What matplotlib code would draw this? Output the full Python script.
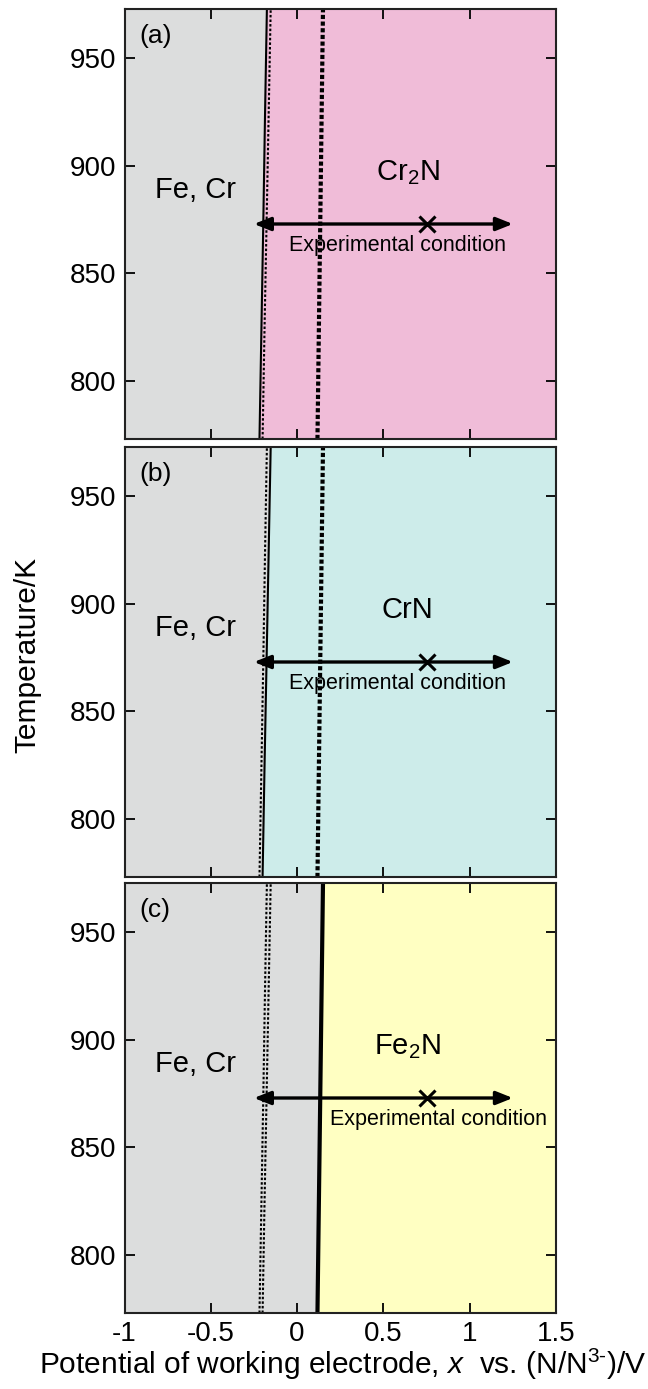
import matplotlib
matplotlib.use("Agg")
import matplotlib.pyplot as plt
import numpy as np

plt.rcParams['font.family'] = ['Liberation Sans', 'DejaVu Sans']
plt.rcParams['mathtext.fontset'] = 'custom'
plt.rcParams['mathtext.rm'] = 'Liberation Sans'
plt.rcParams['mathtext.it'] = 'Liberation Sans:italic'

# Phase boundaries (potential in V at each temperature in K)
temps = [773, 823, 873, 923, 973]
cr2n_edge = [-0.218, -0.207, -0.196, -0.186, -0.175]
crn_edge = [-0.200, -0.189, -0.177, -0.165, -0.153]
fe2n_edge = [0.118, 0.126, 0.134, 0.142, 0.150]

# Experimental condition: potential range and working point at 873 K
exp_range = [-0.25, 1.25]
exp_point = 0.75
exp_temp = 873

panel_tags = ["(a)", "(b)", "(c)"]
phase_names = ["Cr$_2$N", "CrN", "Fe$_2$N"]
phase_colors = ["#f0bcd8", "#cdecea", "#ffffc2"]
gray = "#dcdddd"

xlim = (-1, 1.5)
ylim = (773, 973)

fig = plt.figure(figsize=(6.48, 13.89), dpi=100)
W, H = 648, 1389
tops = [9, 447, 883]
ph = 430

edges = {"Cr$_2$N": cr2n_edge, "CrN": crn_edge, "Fe$_2$N": fe2n_edge}

for i in range(3):
    ax = fig.add_axes([124.5 / W, 1 - (tops[i] + ph) / H, (556 - 124.5) / W, ph / H])
    name = phase_names[i]
    edge = edges[name]
    ax.fill_betweenx(temps, xlim[0], edge, color=gray, lw=0)
    ax.fill_betweenx(temps, edge, xlim[1], color=phase_colors[i], lw=0)

    if i == 0:
        ax.plot(cr2n_edge, temps, color="black", lw=1.5)
        ax.plot(crn_edge, temps, color="black", lw=1.5, ls=(0, (1.2, 1)))
        ax.plot(fe2n_edge, temps, color="black", lw=3, ls=(0, (1, 0.6)))
    elif i == 1:
        ax.plot(crn_edge, temps, color="black", lw=1.5)
        ax.plot(cr2n_edge, temps, color="black", lw=1.5, ls=(0, (1.2, 1)))
        ax.plot(fe2n_edge, temps, color="black", lw=3, ls=(0, (1, 0.6)))
    else:
        ax.plot(cr2n_edge, temps, color="black", lw=1.5, ls=(0, (1.2, 1)))
        ax.plot(crn_edge, temps, color="black", lw=1.5, ls=(0, (1.2, 1)))
        ax.plot(fe2n_edge, temps, color="black", lw=3)

    ax.annotate("", xy=(exp_range[1], exp_temp), xytext=(exp_range[0], exp_temp),
                arrowprops=dict(arrowstyle="<|-|>,head_length=1.0,head_width=0.4",
                                color="black", lw=2.4, shrinkA=0, shrinkB=0))
    ax.plot([exp_point], [exp_temp], marker="x", ms=11, mew=2.2, color="black")

    if i < 2:
        ax.text(0.58, 863, "Experimental condition", fontsize=15.5, ha="center", va="center")
    else:
        ax.text(0.82, 863, "Experimental condition", fontsize=15.5, ha="center", va="center")

    ax.text(-0.59, 889, "Fe, Cr", fontsize=21, ha="center", va="center")
    ax.text(0.64, 897, name, fontsize=21, ha="center", va="center")
    ax.text(0.035, 0.965, panel_tags[i], transform=ax.transAxes, fontsize=19,
            ha="left", va="top")

    ax.set_xlim(xlim)
    ax.set_ylim(ylim)
    ax.set_yticks([800, 850, 900, 950])
    ax.set_xticks([-1, -0.5, 0, 0.5, 1, 1.5])
    ax.tick_params(direction="in", length=7.5, width=1.3, top=True, right=True,
                   labelsize=20, pad=6)
    if i < 2:
        ax.set_xticklabels([])
    else:
        ax.set_xticklabels(["-1", "-0.5", "0", "0.5", "1", "1.5"])
    for s in ax.spines.values():
        s.set_linewidth(1.5)
        s.set_color("#222222")

fig.text(27 / W, 1 - 655 / H, "Temperature/K", rotation=90, fontsize=21.5,
         ha="center", va="center")
fig.text(343 / W, 1 - 1364 / H, "Potential of working electrode, $x$  vs. (N/N$^{3\\text{-}}$)/V",
         fontsize=21.5, ha="center", va="center")

fig.savefig("out.png", dpi=100)
